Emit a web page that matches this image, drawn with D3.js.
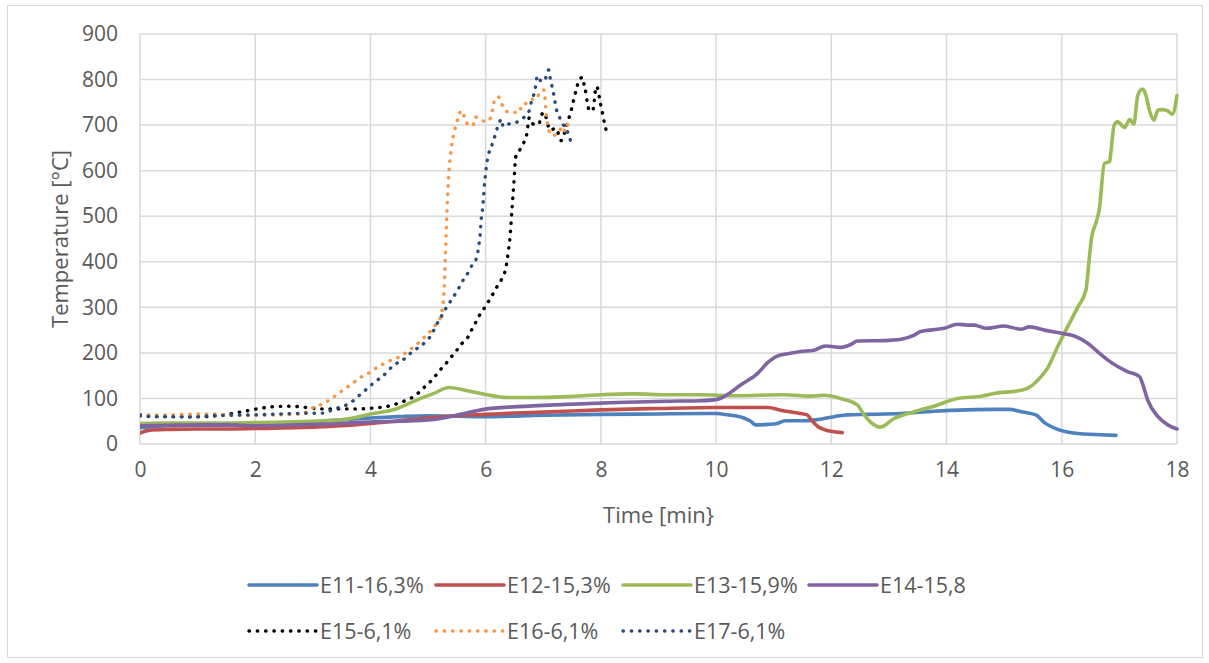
<!DOCTYPE html>
<html>
<head>
<meta charset="utf-8">
<script src="https://cdn.jsdelivr.net/npm/d3@7"></script>
<style>
  html, body { margin: 0; padding: 0; background: #fff; }
  svg { display: block; }
  text { font-family: "Open Sans", "Noto Sans", sans-serif; fill: #595959; }
</style>
</head>
<body>
<svg id="chart" width="1209" height="663"></svg>
<script>
// Temperature readings (°C) against time (min) for each specimen
const e11Time = [0, 0.5, 1, 1.5, 2, 2.5, 3, 3.5, 4, 4.5, 5, 5.5, 6, 7, 8, 9, 10, 10.2, 10.48, 10.6, 10.69, 10.9, 11.06, 11.2, 11.5, 11.73, 12.05, 12.28, 12.63, 13.21, 13.78, 14.36, 14.83, 15.09, 15.29, 15.55, 15.7, 15.93, 16.28, 16.57, 16.94];
const e11Temp = [36, 40, 41, 42, 44, 46, 49, 53, 57, 60, 62, 61, 60, 63, 65, 66, 67, 64, 57, 50, 42, 43, 45, 51, 51, 53, 60, 64, 65, 67, 72, 75, 76, 76, 71, 64, 47, 32, 23, 21, 19];

const e12Time = [0, 0.15, 0.5, 1, 1.5, 2, 2.5, 3, 3.5, 4, 4.5, 5, 5.5, 6, 6.5, 7, 8, 9, 10, 10.5, 10.9, 11.12, 11.41, 11.58, 11.65, 11.77, 11.95, 12.19];
const e12Temp = [24, 30, 32, 33, 33, 34, 35, 37, 40, 45, 51, 57, 62, 65, 68, 70, 75, 78, 80, 80, 80, 74, 68, 64, 53, 38, 29, 25];

const e13Time = [0, 0.5, 1, 1.5, 2, 2.5, 3, 3.48, 3.8, 4.05, 4.4, 4.81, 5.1, 5.36, 5.68, 6.02, 6.37, 6.83, 7.41, 7.99, 8.57, 9.15, 9.73, 10.02, 10.31, 11.18, 11.64, 11.87, 12.16, 12.45, 12.57, 12.71, 12.85, 13.09, 13.44, 13.78, 14.19, 14.6, 14.83, 15.29, 15.4, 15.64, 15.75, 15.93, 16.1, 16.28, 16.42, 16.48, 16.52, 16.59, 16.65, 16.74, 16.83, 16.85, 16.91, 16.97, 17.09, 17.18, 17.25, 17.32, 17.4, 17.46, 17.52, 17.6, 17.67, 17.75, 17.84, 17.92, 18];
const e13Temp = [45, 46, 46, 46, 47, 48, 50, 53, 60, 67, 75, 97, 111, 124, 117, 108, 102, 102, 104, 108, 110, 108, 108, 107, 106, 108, 105, 107, 100, 86, 64, 45, 37, 56, 71, 83, 100, 105, 111, 118, 122, 148, 166, 214, 257, 301, 338, 411, 455, 484, 514, 616, 620, 638, 700, 707, 695, 712, 702, 766, 779, 766, 733, 711, 733, 734, 731, 724, 765];

const e14Time = [0, 0.5, 1, 1.5, 2, 2.5, 3, 3.5, 4.05, 4.52, 5.1, 5.56, 5.97, 6.55, 7.41, 8.28, 9.15, 9.73, 10.02, 10.19, 10.43, 10.72, 10.89, 11.06, 11.24, 11.47, 11.7, 11.9, 12.17, 12.35, 12.45, 12.91, 13.21, 13.44, 13.55, 13.78, 13.96, 14.19, 14.36, 14.48, 14.68, 15.0, 15.29, 15.44, 15.7, 15.99, 16.22, 16.45, 16.62, 16.8, 16.97, 17.14, 17.35, 17.4, 17.49, 17.67, 17.84, 18];
const e14Temp = [40, 41, 42, 42, 40, 41, 43, 45, 49, 50, 54, 65, 76, 82, 87, 91, 94, 95, 98, 108, 130, 155, 178, 193, 198, 203, 206, 215, 212, 219, 226, 227, 230, 239, 247, 251, 254, 263, 261, 261, 254, 259, 252, 257, 250, 243, 237, 221, 203, 184, 170, 159, 148, 133, 97, 60, 42, 33];

const e15Time = [0, 0.5, 1, 1.33, 1.74, 2.03, 2.32, 2.61, 2.9, 3.19, 3.48, 3.77, 4.05, 4.31, 4.45, 4.58, 4.71, 4.83, 4.93, 5.04, 5.13, 5.22, 5.32, 5.41, 5.5, 5.59, 5.69, 5.75, 5.82, 5.89, 5.97, 6.05, 6.12, 6.19, 6.27, 6.33, 6.36, 6.4, 6.43, 6.46, 6.49, 6.52, 6.59, 6.66, 6.71, 6.76, 6.83, 6.92, 6.97, 7.01, 7.12, 7.22, 7.31, 7.38, 7.43, 7.49, 7.54, 7.58, 7.62, 7.69, 7.71, 7.74, 7.76, 7.8, 7.86, 7.88, 7.92, 7.96, 7.98, 8.01, 8.04, 8.07, 8.1];
const e15Temp = [62, 60, 60, 62, 70, 77, 82, 83, 80, 77, 77, 77, 79, 83, 88, 94, 101, 112, 124, 137, 150, 164, 178, 192, 206, 221, 234, 249, 265, 282, 297, 313, 328, 344, 360, 376, 393, 429, 466, 521, 574, 629, 645, 661, 678, 717, 702, 702, 722, 728, 689, 693, 666, 688, 709, 735, 762, 781, 799, 805, 787, 770, 752, 733, 731, 749, 785, 773, 755, 737, 718, 700, 684];

const e16Time = [0, 0.5, 1, 1.25, 1.6, 2.0, 2.4, 2.8, 2.92, 3.05, 3.19, 3.31, 3.44, 3.54, 3.66, 3.77, 3.89, 4.02, 4.13, 4.27, 4.39, 4.52, 4.64, 4.75, 4.86, 4.97, 5.07, 5.16, 5.23, 5.25, 5.27, 5.28, 5.29, 5.3, 5.31, 5.32, 5.33, 5.35, 5.38, 5.4, 5.42, 5.45, 5.48, 5.52, 5.58, 5.64, 5.71, 5.78, 5.82, 5.9, 6.03, 6.1, 6.13, 6.16, 6.22, 6.28, 6.36, 6.48, 6.59, 6.62, 6.71, 6.8, 6.88, 6.94, 7.01, 7.03, 7.04, 7.07, 7.1, 7.15, 7.26, 7.34, 7.38, 7.43];
const e16Temp = [64, 64, 66, 66, 63, 63, 64, 66, 73, 83, 88, 99, 110, 120, 130, 141, 151, 159, 170, 178, 186, 192, 203, 213, 225, 239, 252, 267, 283, 300, 320, 340, 375, 410, 445, 480, 516, 570, 625, 645, 664, 682, 698, 715, 732, 715, 699, 700, 718, 711, 708, 722, 741, 757, 762, 746, 730, 728, 728, 744, 748, 757, 757, 773, 777, 759, 740, 706, 688, 677, 683, 697, 686, 704];

const e17Time = [0, 0.2, 0.5, 0.93, 1.2, 1.5, 2.0, 2.66, 3.21, 3.35, 3.48, 3.62, 3.74, 3.85, 3.96, 4.08, 4.21, 4.32, 4.44, 4.54, 4.64, 4.74, 4.86, 4.97, 5.06, 5.13, 5.23, 5.32, 5.41, 5.48, 5.55, 5.62, 5.7, 5.77, 5.84, 5.87, 5.89, 5.91, 5.92, 5.94, 5.96, 5.98, 6.0, 6.02, 6.04, 6.07, 6.12, 6.16, 6.2, 6.28, 6.3, 6.39, 6.48, 6.58, 6.68, 6.76, 6.8, 6.85, 6.9, 6.97, 7.04, 7.07, 7.1, 7.12, 7.15, 7.18, 7.23, 7.29, 7.35, 7.39, 7.42, 7.47];
const e17Temp = [64, 60, 60, 59, 62, 63, 64, 67, 68, 76, 81, 88, 99, 112, 123, 137, 148, 163, 176, 182, 193, 204, 214, 226, 240, 258, 280, 300, 317, 331, 346, 362, 377, 394, 408, 426, 444, 470, 490, 510, 536, 572, 595, 617, 630, 645, 660, 676, 693, 713, 697, 702, 704, 709, 719, 733, 755, 773, 808, 795, 803, 819, 821, 803, 786, 768, 733, 715, 700, 697, 686, 667];

const seriesNames = ["E11-16,3%", "E12-15,3%", "E13-15,9%", "E14-15,8", "E15-6,1%", "E16-6,1%", "E17-6,1%"];
const xTicks = [0, 2, 4, 6, 8, 10, 12, 14, 16, 18];
const yTicks = [0, 100, 200, 300, 400, 500, 600, 700, 800, 900];

const series = [
  { name: seriesNames[0], t: e11Time, v: e11Temp, color: "#4F81BD", dotted: false },
  { name: seriesNames[1], t: e12Time, v: e12Temp, color: "#C0504D", dotted: false },
  { name: seriesNames[2], t: e13Time, v: e13Temp, color: "#9BBB59", dotted: false },
  { name: seriesNames[3], t: e14Time, v: e14Temp, color: "#8064A2", dotted: false },
  { name: seriesNames[4], t: e15Time, v: e15Temp, color: "#000000", dotted: true },
  { name: seriesNames[5], t: e16Time, v: e16Temp, color: "#F79646", dotted: true },
  { name: seriesNames[6], t: e17Time, v: e17Temp, color: "#2A4B7C", dotted: true }
];

const svg = d3.select("#chart");
const plotLeft = 140, plotRight = 1177, plotTop = 34, plotBottom = 444;

const x = d3.scaleLinear().domain([0, 18]).range([plotLeft, plotRight]);
const y = d3.scaleLinear().domain([0, 900]).range([plotBottom, plotTop]);

// outer chart frame
svg.append("rect")
  .attr("x", 7.5).attr("y", 5.5).attr("width", 1195).attr("height", 652)
  .attr("fill", "#fff").attr("stroke", "#d9d9d9").attr("stroke-width", 1);

// gridlines
const grid = svg.append("g").attr("stroke", "#d9d9d9").attr("stroke-width", 1.5);
grid.selectAll("line.h").data(yTicks).join("line").attr("class", "h")
  .attr("x1", plotLeft).attr("x2", plotRight)
  .attr("y1", d => y(d)).attr("y2", d => y(d));
grid.selectAll("line.v").data(xTicks).join("line").attr("class", "v")
  .attr("y1", plotTop).attr("y2", plotBottom)
  .attr("x1", d => x(d)).attr("x2", d => x(d));

// axes (labels only, no tick marks)
const yAxis = d3.axisLeft(y).tickValues(yTicks).tickSize(0).tickPadding(22);
const gy = svg.append("g").attr("transform", `translate(${plotLeft},0)`).call(yAxis);
const xAxis = d3.axisBottom(x).tickValues(xTicks).tickSize(0).tickPadding(18);
const gx = svg.append("g").attr("transform", `translate(0,${plotBottom})`).call(xAxis);
[gx, gy].forEach(g => {
  g.select(".domain").remove();
  g.selectAll("text")
    .attr("font-family", '"Open Sans", sans-serif')
    .attr("font-size", 21)
    .attr("fill", "#595959");
});

// axis titles
svg.append("text")
  .attr("x", (plotLeft + plotRight) / 2).attr("y", 523)
  .attr("text-anchor", "middle")
  .attr("font-size", 22)
  .text("Time [min}");
svg.append("text")
  .attr("transform", `translate(60,${(plotTop + plotBottom) / 2}) rotate(-90)`)
  .attr("text-anchor", "middle").attr("dy", "0.35em")
  .attr("font-size", 22)
  .text("Temperature [°C]");

// series lines
svg.append("clipPath").attr("id", "plotClip")
  .append("rect").attr("x", plotLeft).attr("y", plotTop - 10)
  .attr("width", plotRight - plotLeft + 2).attr("height", plotBottom - plotTop + 12);

const line = d3.line()
  .x(d => x(d[0]))
  .y(d => y(d[1]))
  .curve(d3.curveMonotoneX);

const plot = svg.append("g").attr("clip-path", "url(#plotClip)");
series.forEach(s => {
  const pts = s.t.map((t, i) => [t, s.v[i]]);
  const p = plot.append("path")
    .datum(pts)
    .attr("d", line)
    .attr("fill", "none")
    .attr("stroke", s.color)
    .attr("stroke-linejoin", "round")
    .attr("stroke-linecap", "round");
  if (s.dotted) {
    p.attr("stroke-width", 3.4).attr("stroke-dasharray", "0.4 7.9");
  } else {
    p.attr("stroke-width", 3.6);
  }
});

// legend
const legendCols = [249, 436, 623, 809];
const legendRows = [585, 631];
const legend = svg.append("g");
series.forEach((s, i) => {
  const row = i < 4 ? 0 : 1;
  const col = i < 4 ? i : i - 4;
  const lx = legendCols[col], ly = legendRows[row];
  const l = legend.append("line")
    .attr("x1", lx).attr("x2", lx + 68)
    .attr("y1", ly).attr("y2", ly)
    .attr("stroke", s.color)
    .attr("stroke-linecap", "round");
  if (s.dotted) {
    l.attr("stroke-width", 3.4).attr("stroke-dasharray", "0.4 7.9");
  } else {
    l.attr("stroke-width", 3.6);
  }
  legend.append("text")
    .attr("x", lx + 71).attr("y", ly).attr("dy", "0.35em")
    .attr("font-size", 21.5)
    .text(s.name);
});
</script>
</body>
</html>
